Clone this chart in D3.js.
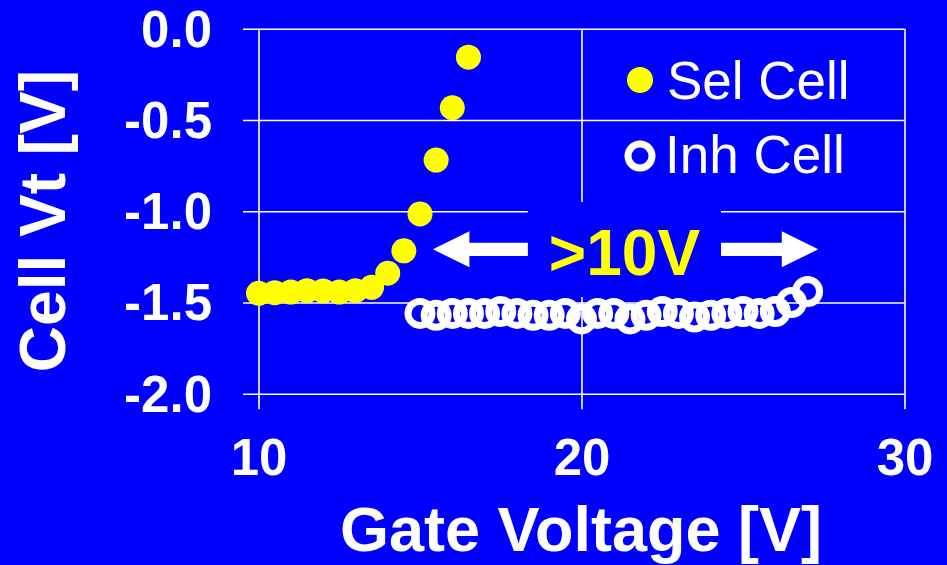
<!DOCTYPE html>
<html>
<head>
<meta charset="utf-8">
<script src="https://cdn.jsdelivr.net/npm/d3@7"></script>
<style>
  html, body { margin: 0; padding: 0; background: #0000ff; }
  svg { display: block; }
  text { font-family: "Liberation Sans", Arial, Helvetica, sans-serif; }
</style>
</head>
<body>
<svg id="chart" width="947" height="565"></svg>
<script>
// ---- data ----
const selGate = [10, 10.5, 11, 11.5, 12, 12.5, 13, 13.5, 14, 14.5, 15, 15.5, 16, 16.5];
const selVt   = [-1.45, -1.447, -1.443, -1.436, -1.437, -1.443, -1.436, -1.417, -1.34, -1.217, -1.015, -0.72, -0.433, -0.156];

const inhGate = [15, 15.5, 16, 16.5, 17, 17.5, 18, 18.5, 19, 19.5, 20, 20.5, 21, 21.5, 22, 22.5, 23, 23.5, 24, 24.5, 25, 25.5, 26, 26.5, 27];
const inhVt   = [-1.56, -1.57, -1.56, -1.56, -1.56, -1.55, -1.56, -1.57, -1.57, -1.56, -1.59, -1.56, -1.56, -1.59, -1.57, -1.55, -1.56, -1.58, -1.57, -1.56, -1.55, -1.56, -1.55, -1.50, -1.44];

const xTicks = [10, 20, 30];
const yTicks = [0, -0.5, -1.0, -1.5, -2.0];
const xTickLabels = ["10", "20", "30"];
const yTickLabels = ["0.0", "-0.5", "-1.0", "-1.5", "-2.0"];
const seriesNames = ["Sel Cell", "Inh Cell"];
const xTitle = "Gate Voltage [V]";
const yTitle = "Cell Vt [V]";
const annotationText = ">10V";

// ---- layout ----
const svg = d3.select("#chart");
const BLUE = "#0000ff", YELLOW = "#ffff00", WHITE = "#ffffff";
const pLeft = 258.5, pRight = 904.5, pTop = 28.7, pBottom = 393.7;
const tickOut = 15.5;

const x = d3.scaleLinear().domain([10, 30]).range([pLeft, pRight]);
const y = d3.scaleLinear().domain([-2, 0]).range([pBottom, pTop]);

svg.append("rect").attr("width", 947).attr("height", 565).attr("fill", BLUE);

// horizontal grid + y axis labels
const yAxis = d3.axisLeft(y)
  .tickValues(yTicks)
  .tickFormat((d, i) => yTickLabels[i])
  .tickSize(pRight - pLeft + tickOut)
  .tickPadding(31);
const gy = svg.append("g").attr("transform", `translate(${pRight},0)`).call(yAxis);
gy.select(".domain").remove();
gy.selectAll(".tick line").attr("stroke", WHITE).attr("stroke-width", 1.6);
gy.selectAll(".tick text")
  .attr("fill", WHITE)
  .attr("font-size", 51)
  .attr("font-weight", "bold")
  .attr("font-family", '"Liberation Sans", Arial, sans-serif')
  .attr("dy", "0.34em");

// vertical grid + x axis labels
const xAxis = d3.axisBottom(x)
  .tickValues(xTicks)
  .tickFormat((d, i) => xTickLabels[i])
  .tickSize(pBottom - pTop + tickOut)
  .tickPadding(0);
const gx = svg.append("g").attr("transform", `translate(0,${pTop})`).call(xAxis);
gx.select(".domain").remove();
gx.selectAll(".tick line").attr("stroke", WHITE).attr("stroke-width", 1.6);
gx.selectAll(".tick text")
  .attr("fill", WHITE)
  .attr("font-size", 51)
  .attr("font-weight", "bold")
  .attr("font-family", '"Liberation Sans", Arial, sans-serif')
  .attr("dy", null)
  .attr("y", 475 - pTop);

// annotation background box (hides grid lines behind label)
svg.append("rect")
  .attr("x", x(18.34)).attr("y", y(-0.95))
  .attr("width", x(24.32) - x(18.34))
  .attr("height", y(-1.47) - y(-0.95))
  .attr("fill", BLUE);

// arrows
function arrow(x0, x1, yv) {
  const dir = Math.sign(x1 - x0);
  const headLen = 36.5, headHalf = 18, shaftHalf = 6.7;
  const yc = y(yv);
  const hb = x1 - dir * headLen;
  const pts = [
    [x0, yc - shaftHalf], [hb, yc - shaftHalf], [hb, yc - headHalf],
    [x1, yc], [hb, yc + headHalf], [hb, yc + shaftHalf], [x0, yc + shaftHalf]
  ];
  svg.append("path").attr("d", d3.line()(pts) + "Z").attr("fill", WHITE);
}
arrow(x(18.34), x(15.40), -1.209);
arrow(x(24.32), x(27.33), -1.209);

svg.append("text")
  .attr("x", x(21.33)).attr("y", 275)
  .attr("text-anchor", "middle")
  .attr("font-size", 64).attr("font-weight", "bold")
  .attr("fill", YELLOW)
  .text(annotationText);

// Sel Cell markers
svg.append("g").selectAll("circle")
  .data(selGate.map((g, i) => [g, selVt[i]]))
  .join("circle")
  .attr("cx", d => x(d[0])).attr("cy", d => y(d[1]))
  .attr("r", 12.5).attr("fill", YELLOW);

// Inh Cell markers
svg.append("g").selectAll("circle")
  .data(inhGate.map((g, i) => [g, inhVt[i]]))
  .join("circle")
  .attr("cx", d => x(d[0])).attr("cy", d => y(d[1]))
  .attr("r", 12).attr("fill", "none")
  .attr("stroke", WHITE).attr("stroke-width", 7);

// legend
const lg = svg.append("g");
lg.append("circle").attr("cx", 640).attr("cy", 80).attr("r", 13).attr("fill", YELLOW);
lg.append("text").attr("x", 667).attr("y", 99.3)
  .attr("font-size", 53).attr("fill", WHITE).text(seriesNames[0]);
lg.append("circle").attr("cx", 640).attr("cy", 156).attr("r", 12)
  .attr("fill", BLUE).attr("stroke", WHITE).attr("stroke-width", 7);
lg.append("text").attr("x", 665).attr("y", 173.3)
  .attr("font-size", 53).attr("fill", WHITE).text(seriesNames[1]);

// axis titles
svg.append("text")
  .attr("x", 581).attr("y", 551)
  .attr("text-anchor", "middle")
  .attr("font-size", 63).attr("font-weight", "bold")
  .attr("fill", WHITE)
  .text(xTitle);

svg.append("text")
  .attr("transform", "translate(65,221) rotate(-90)")
  .attr("text-anchor", "middle")
  .attr("font-size", 64).attr("font-weight", "bold")
  .attr("fill", WHITE)
  .text(yTitle);
</script>
</body>
</html>
